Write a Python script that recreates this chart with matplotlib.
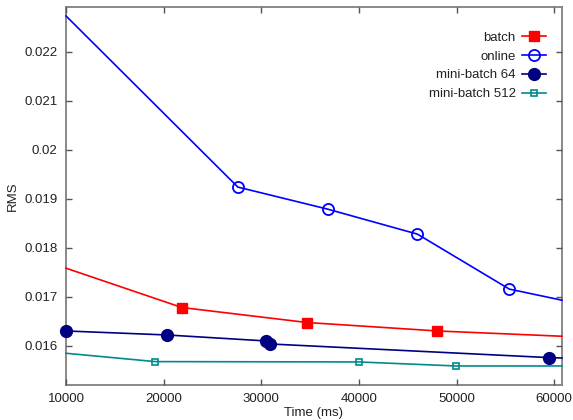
import matplotlib
matplotlib.use("Agg")
import matplotlib.pyplot as plt

plt.rcParams['font.family'] = ['Liberation Sans', 'DejaVu Sans']

# Data (Time in ms, RMS)
batch_x = [10000, 21870, 34700, 48040, 60800]
batch_y = [0.017586, 0.016784, 0.016478, 0.016306, 0.016198]
batch_marks = [1, 2, 3]

online_x = [10000, 27600, 36800, 46000, 55400, 60800]
online_y = [0.02273, 0.01924, 0.01879, 0.01828, 0.01716, 0.016933]
online_marks = [1, 2, 3, 4]

mb64_x = [10000, 20370, 30500, 30880, 59440, 60800]
mb64_y = [0.016306, 0.016224, 0.016102, 0.016041, 0.015763, 0.015755]
mb64_marks = [0, 1, 2, 3, 4]

mb512_x = [10000, 19140, 39960, 49990, 60800]
mb512_y = [0.015851, 0.015681, 0.015674, 0.015592, 0.015592]
mb512_marks = [1, 2, 3]

xticks = [10000, 20000, 30000, 40000, 50000, 60000]
yticks = [0.016, 0.017, 0.018, 0.019, 0.020, 0.021, 0.022]
ytick_labels = ['0.016', '0.017', '0.018', '0.019', '0.02', '0.021', '0.022']

fig = plt.figure(figsize=(5.73, 4.2), dpi=100)
ax = fig.add_axes([66/573, 1-385/420, (562-66)/573, (385-7.3)/420])

lw = 1.2
ax.plot(batch_x, batch_y, color='#ff0000', lw=lw, marker='s', ms=6.5,
        markevery=batch_marks, label='batch', clip_on=False)
ax.plot(online_x, online_y, color='#0000ff', lw=lw, marker='o', ms=8,
        mfc='none', mew=1.3, markevery=online_marks, label='online', clip_on=False)
ax.plot(mb64_x, mb64_y, color='#000080', lw=lw, marker='o', ms=8.5,
        markevery=mb64_marks, label='mini-batch 64', clip_on=False, zorder=3)
ax.plot(mb512_x, mb512_y, color='#008b8b', lw=lw, marker='s', ms=5,
        mfc='none', mew=1.2, markevery=mb512_marks, label='mini-batch 512', clip_on=False)

ax.set_xlim(10000, 60800)
ax.set_ylim(0.015204, 0.022906)
ax.set_xticks(xticks)
ax.set_xticklabels([str(v) for v in xticks])
ax.set_yticks(yticks)
ax.set_yticklabels(ytick_labels)

for s in ax.spines.values():
    s.set_color('#808080')
    s.set_linewidth(1.3)
    s.set_zorder(1)
ax.tick_params(direction='in', top=True, right=True, length=4, width=1,
               color='#555555', labelsize=9.5, labelcolor='#222222', pad=6)

ax.set_xlabel('Time (ms)', fontsize=9.5, color='#222222', labelpad=1)
ax.set_ylabel('RMS', fontsize=9.5, color='#222222', labelpad=4)

leg = ax.legend(loc='upper right', bbox_to_anchor=(1.0, 0.978), frameon=False,
                markerfirst=False, fontsize=9.5, handlelength=1.8,
                labelspacing=0.5, borderaxespad=0.8, handletextpad=0.5)
for t in leg.get_texts():
    t.set_color('#222222')
leg._legend_box.align = "right"

fig.savefig('out.png', dpi=100)
